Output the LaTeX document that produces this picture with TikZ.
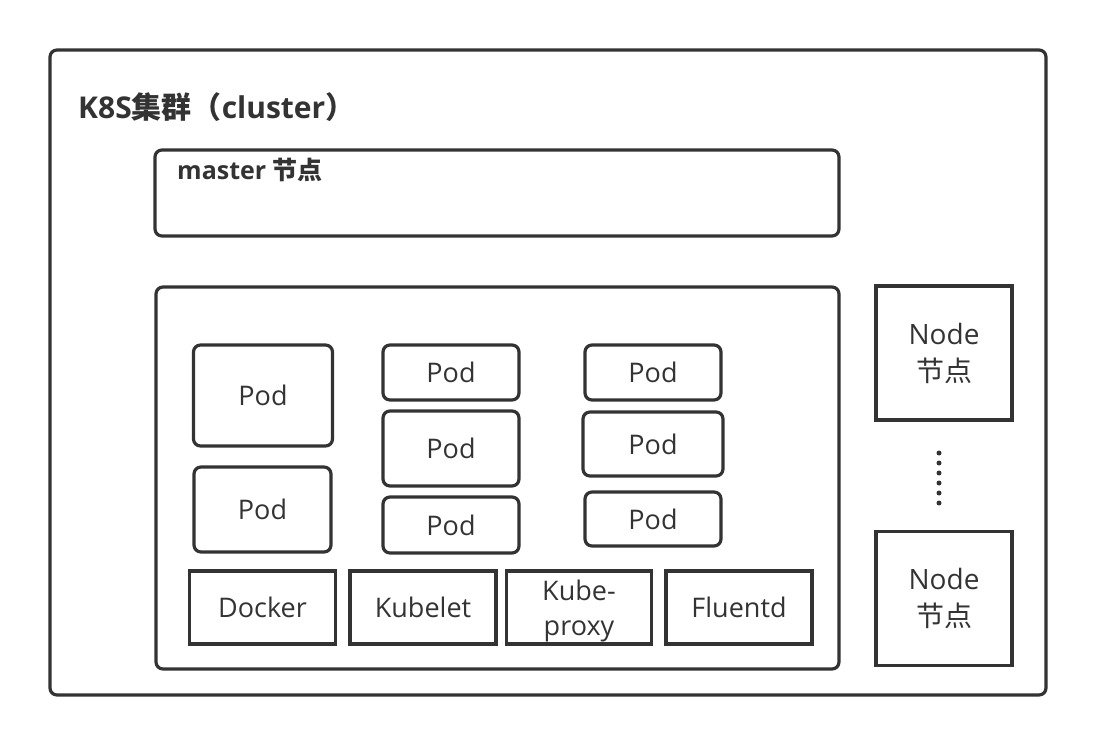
\documentclass[tikz,border=0pt]{standalone}
\usepackage{fontspec}
\setmainfont{Open Sans}
\newfontfamily\cjk{Noto Sans CJK SC}
\definecolor{ink}{HTML}{333333}
\begin{document}
\begin{tikzpicture}[x=1pt,y=-1pt,
  box/.style={draw=ink,line width=3.2pt,rounded corners=7pt,inner sep=0pt,outer sep=0pt,text=ink},
  sqbox/.style={draw=ink,line width=3.2pt,inner sep=0pt,outer sep=0pt,text=ink,align=center},
  lbl/.style={text=ink,inner sep=0pt,font=\fontsize{27}{32}\selectfont},
  dot/.style={circle,fill=ink,inner sep=0pt,minimum size=5pt}]
\useasboundingbox (0,0) rectangle (1096,746);
% cluster
\node[box,minimum width=996pt,minimum height=645pt] (cluster) at (548,372.5) {};
\node[anchor=base west,inner sep=0pt,text=ink,font=\fontsize{30}{34}\selectfont\bfseries] (title) at (78,119) {K8S{\cjk 集群（}cluster{\cjk ）}};
% master
\node[box,minimum width=684pt,minimum height=86pt] (master) at (497,193) {};
\node[anchor=base west,inner sep=0pt,text=ink,font=\fontsize{25}{30}\selectfont\bfseries] (mtitle) at (177,180) {master {\cjk 节点}};
% worker
\node[box,minimum width=683pt,minimum height=382pt] (worker) at (497.5,478) {};
% pods column 1
\node[box,lbl,minimum width=139pt,minimum height=101pt] (p11) at (263,395.5) {Pod};
\node[box,lbl,minimum width=137pt,minimum height=85pt] (p12) at (262.5,509.5) {Pod};
% pods column 2
\node[box,lbl,minimum width=136pt,minimum height=55pt] (p21) at (451,372.5) {Pod};
\node[box,lbl,minimum width=136pt,minimum height=75pt] (p22) at (451,448.5) {Pod};
\node[box,lbl,minimum width=136pt,minimum height=56pt] (p23) at (451,525) {Pod};
% pods column 3
\node[box,lbl,minimum width=136pt,minimum height=55pt] (p31) at (653,372.5) {Pod};
\node[box,lbl,minimum width=140pt,minimum height=64pt] (p32) at (653,444) {Pod};
\node[box,lbl,minimum width=136pt,minimum height=54pt] (p33) at (653,519) {Pod};
% bottom components
\node[sqbox,lbl,minimum width=146pt,minimum height=73pt] (docker) at (262.5,607.5) {Docker};
\node[sqbox,lbl,minimum width=146pt,minimum height=73pt] (kubelet) at (423,607.5) {Kubelet};
\node[sqbox,lbl,minimum width=145pt,minimum height=73pt] (proxy) at (579,607.5) {};
\node[lbl,align=center,font=\fontsize{27}{35}\selectfont] (proxyt) at (579,611) {Kube-\\proxy};
\node[sqbox,lbl,minimum width=146pt,minimum height=73pt] (fluentd) at (739,607.5) {Fluentd};
% node boxes
\node[sqbox,lbl,minimum width=136pt,minimum height=134pt,font=\fontsize{28}{37}\selectfont] (n1) at (944,353) {Node\\{\cjk 节点}};
\node[sqbox,lbl,minimum width=136pt,minimum height=134pt,font=\fontsize{28}{37}\selectfont] (n2) at (944,598.5) {Node\\{\cjk 节点}};
% dots
\foreach \i in {0,...,5} \node[dot] (d\i) at (939,{453+10*\i}) {};
\end{tikzpicture}
\end{document}
